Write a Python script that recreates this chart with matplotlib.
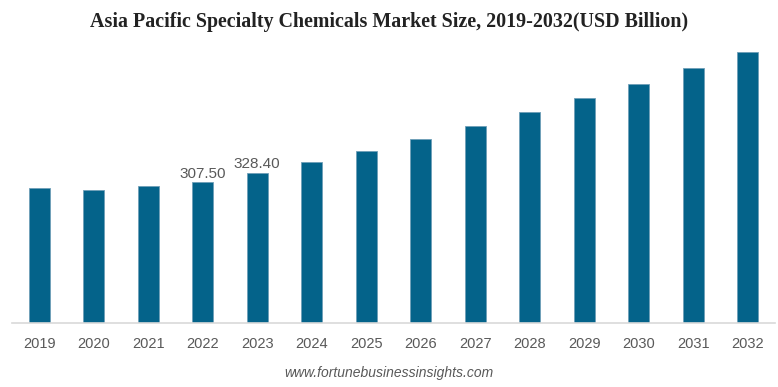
import matplotlib.pyplot as plt

years = ['2019', '2020', '2021', '2022', '2023', '2024', '2025',
         '2026', '2027', '2028', '2029', '2030', '2031', '2032']
values = [296.0, 290.9, 299.6, 307.5, 328.4, 351.6, 376.5,
          402.0, 430.5, 461.9, 491.9, 523.9, 557.6, 594.0]
labels = {'2022': '307.50', '2023': '328.40'}

fig = plt.figure(figsize=(7.78, 3.87), dpi=100)
ax = fig.add_axes([0.0154, 0.1661, 0.9807, 0.7176])

x = range(len(years))
ax.bar(x, values, width=0.39, color='#04638A', edgecolor='#6f9fb8', linewidth=0.6)

for i, yr in enumerate(years):
    if yr in labels:
        ax.text(i, values[i] + 4, labels[yr], ha='center', va='bottom',
                fontsize=11, color='#595959', family='Liberation Sans')

ax.set_xlim(-0.5, 13.5)
ax.set_ylim(0, 608.7)
ax.set_xticks(list(x))
ax.set_xticklabels(years, fontsize=10.5, color='#595959', family='Liberation Sans')
ax.tick_params(axis='x', length=0, pad=10)
ax.set_yticks([])
for s in ['top', 'right', 'left']:
    ax.spines[s].set_visible(False)
ax.spines['bottom'].set_color('#d9d9d9')
ax.spines['bottom'].set_linewidth(1.2)

fig.text(0.5, 0.943, 'Asia Pacific Specialty Chemicals Market Size, 2019-2032(USD Billion)',
         ha='center', va='center', fontsize=14.4, fontweight='bold',
         family='Liberation Serif', color='#222222')
fig.text(0.5, 0.035, 'www.fortunebusinessinsights.com', ha='center', va='center',
         fontsize=10, style='italic', color='#595959', family='Liberation Sans')

plt.savefig('out.png', dpi=100)
